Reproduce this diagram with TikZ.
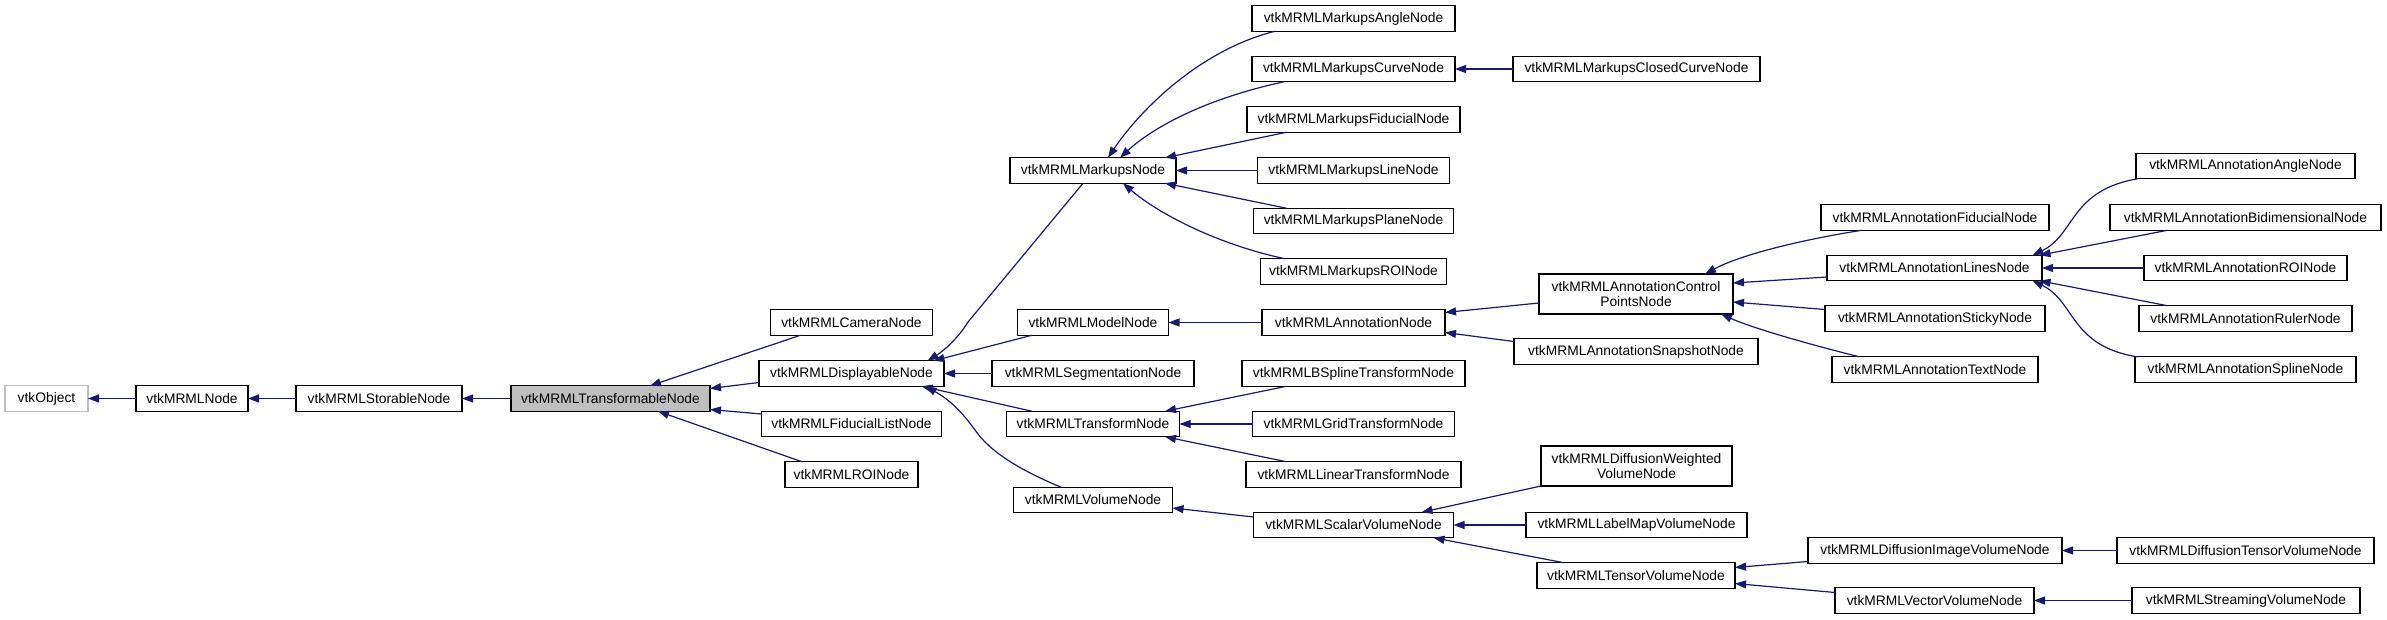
\documentclass[tikz,border=0pt]{standalone}
\usepackage{fontspec}
\setmainfont{Liberation Sans}
\usetikzlibrary{arrows.meta}
\definecolor{edgeblue}{HTML}{191970}
\definecolor{graybd}{HTML}{BFBFBF}
\begin{document}
\begin{tikzpicture}[x=1pt,y=-1pt,
  box/.style={draw=black, fill=white, line width=1.2pt, inner sep=0pt, outer sep=0pt,
    minimum height=25.5pt, align=center, font=\fontsize{13.8pt}{15pt}\selectfont},
  inh/.style={draw=edgeblue, line width=1.2pt, {Triangle[length=11pt,width=8pt]}-}]
\useasboundingbox[fill=white] (0,0) rectangle (2387,620);
% column 0
\node[box, minimum width=83pt, draw=graybd] (obj) at (46.5,398.5) {vtkObject};
\node[box, minimum width=112pt] (nd) at (192,398.5) {vtkMRMLNode};
\node[box, minimum width=166pt] (stor) at (379,398.5) {vtkMRMLStorableNode};
\node[box, minimum width=199pt, fill=graybd] (trans) at (610.5,398.5) {vtkMRMLTransformableNode};
% column 1
\node[box, minimum width=162pt] (cam) at (851.5,322.5) {vtkMRMLCameraNode};
\node[box, minimum width=185pt] (disp) at (851.5,373.5) {vtkMRMLDisplayableNode};
\node[box, minimum width=180pt] (fidl) at (851.5,424) {vtkMRMLFiducialListNode};
\node[box, minimum width=133pt] (roi) at (851.5,474.5) {vtkMRMLROINode};
% column 2
\node[box, minimum width=166pt] (mk) at (1093,170.5) {vtkMRMLMarkupsNode};
\node[box, minimum width=151pt] (model) at (1093,322.5) {vtkMRMLModelNode};
\node[box, minimum width=202pt] (seg) at (1093,373.5) {vtkMRMLSegmentationNode};
\node[box, minimum width=173pt] (tf) at (1093,424) {vtkMRMLTransformNode};
\node[box, minimum width=159pt] (vol) at (1093,500) {vtkMRMLVolumeNode};
% column 3
\node[box, minimum width=203pt] (mang) at (1353.5,18.5) {vtkMRMLMarkupsAngleNode};
\node[box, minimum width=203pt] (mcurve) at (1353.5,69) {vtkMRMLMarkupsCurveNode};
\node[box, minimum width=213pt] (mfid) at (1353.5,119.5) {vtkMRMLMarkupsFiducialNode};
\node[box, minimum width=192pt] (mline) at (1353.5,170.5) {vtkMRMLMarkupsLineNode};
\node[box, minimum width=200pt] (mplane) at (1353.5,221) {vtkMRMLMarkupsPlaneNode};
\node[box, minimum width=186pt] (mroi) at (1353.5,271.5) {vtkMRMLMarkupsROINode};
\node[box, minimum width=183pt] (ann) at (1353.5,322.5) {vtkMRMLAnnotationNode};
\node[box, minimum width=223pt] (bspl) at (1353.5,373.5) {vtkMRMLBSplineTransformNode};
\node[box, minimum width=202pt] (grid) at (1353.5,424) {vtkMRMLGridTransformNode};
\node[box, minimum width=215pt] (lin) at (1353.5,474.5) {vtkMRMLLinearTransformNode};
\node[box, minimum width=200pt] (scal) at (1353.5,525) {vtkMRMLScalarVolumeNode};
% column 4
\node[box, minimum width=247pt] (mclosed) at (1636.5,69) {vtkMRMLMarkupsClosedCurveNode};
\node[box, minimum width=194pt, minimum height=40pt] (cp) at (1636,294) {vtkMRMLAnnotationControl\\PointsNode};
\node[box, minimum width=244pt] (snap) at (1636,351.5) {vtkMRMLAnnotationSnapshotNode};
\node[box, minimum width=191pt, minimum height=40pt] (dw) at (1636.5,466) {vtkMRMLDiffusionWeighted\\VolumeNode};
\node[box, minimum width=221pt] (label) at (1636.5,525) {vtkMRMLLabelMapVolumeNode};
\node[box, minimum width=198pt] (tensor) at (1636,575.5) {vtkMRMLTensorVolumeNode};
% column 5
\node[box, minimum width=228pt] (afid) at (1935,217.5) {vtkMRMLAnnotationFiducialNode};
\node[box, minimum width=215pt] (alines) at (1934.5,268) {vtkMRMLAnnotationLinesNode};
\node[box, minimum width=220pt] (asticky) at (1935,318.5) {vtkMRMLAnnotationStickyNode};
\node[box, minimum width=206pt] (atext) at (1935,369.5) {vtkMRMLAnnotationTextNode};
\node[box, minimum width=254pt] (dimg) at (1935,550.5) {vtkMRMLDiffusionImageVolumeNode};
\node[box, minimum width=199pt] (vec) at (1934.5,600.5) {vtkMRMLVectorVolumeNode};
% column 6
\node[box, minimum width=219pt] (aang) at (2245.5,166) {vtkMRMLAnnotationAngleNode};
\node[box, minimum width=271pt] (abid) at (2245.5,217.5) {vtkMRMLAnnotationBidimensionalNode};
\node[box, minimum width=203pt] (aroi) at (2245.5,268) {vtkMRMLAnnotationROINode};
\node[box, minimum width=213pt] (aruler) at (2245.5,318.5) {vtkMRMLAnnotationRulerNode};
\node[box, minimum width=221pt] (aspline) at (2245.5,369.5) {vtkMRMLAnnotationSplineNode};
\node[box, minimum width=257pt] (dten) at (2245.5,550.5) {vtkMRMLDiffusionTensorVolumeNode};
\node[box, minimum width=228pt] (stream) at (2246,600.5) {vtkMRMLStreamingVolumeNode};
% straight horizontal edges
\draw[inh] (obj.east) -- (nd.west);
\draw[inh] (nd.east) -- (stor.west);
\draw[inh] (stor.east) -- (trans.west);
\draw[inh] (disp.east) -- (seg.west);
\draw[inh] (mk.east) -- (mline.west);
\draw[inh] (mcurve.east) -- (mclosed.west);
\draw[inh] (model.east) -- (ann.west);
\draw[inh] (tf.east) -- (grid.west);
\draw[inh] (scal.east) -- (label.west);
\draw[inh] (alines.east) -- (aroi.west);
\draw[inh] (dimg.east) -- (dten.west);
\draw[inh] (vec.east) -- (stream.west);
% transformable children
\draw[inh] ([xshift=39.5pt]trans.north) -- ([xshift=-51pt]cam.south);
\draw[inh] ([yshift=10pt]trans.east) -- ([yshift=-9pt]disp.west);
\draw[inh] ([yshift=-11pt]trans.east) -- ([yshift=10pt]fidl.west);
\draw[inh] ([xshift=47.5pt]trans.south) -- ([xshift=-49.5pt]roi.north);
% displayable children
\draw[inh] ([xshift=76pt]disp.north) .. controls (945,350) and (958,338) .. (968,322) -- ([xshift=-10pt]mk.south);
\draw[inh] ([xshift=82pt]disp.north) -- ([xshift=-61pt]model.south);
\draw[inh] ([xshift=70pt]disp.south) -- ([xshift=-61pt]tf.north);
\draw[inh] ([xshift=74pt]disp.south) .. controls (950,400) and (962,412) .. (975,430) .. controls (990,452) and (1020,470) .. ([xshift=-32pt]vol.north);
% transform children
\draw[inh] ([xshift=72pt]tf.north) -- ([xshift=-67pt]bspl.south);
\draw[inh] ([xshift=72pt]tf.south) -- ([xshift=-67pt]lin.north);
% markups children
\draw[inh] ([xshift=15pt]mk.north) .. controls (1140,110) and (1200,50) .. ([xshift=-78.5pt]mang.south);
\draw[inh] ([xshift=27pt]mk.north) .. controls (1150,130) and (1200,100) .. ([xshift=-69.5pt]mcurve.south);
\draw[inh] ([xshift=72pt]mk.north) -- ([xshift=-67pt]mfid.south);
\draw[inh] ([xshift=72pt]mk.south) -- ([xshift=-67pt]mplane.north);
\draw[inh] ([xshift=30pt]mk.south) .. controls (1160,215) and (1220,245) .. ([xshift=-68.5pt]mroi.north);
% annotation
\draw[inh] ([yshift=10pt]ann.east) -- ([yshift=-9pt]cp.west);
\draw[inh] ([yshift=-10pt]ann.east) -- ([yshift=10pt]snap.west);
\draw[inh] ([xshift=69pt]cp.north) .. controls (1740,255) and (1800,240) .. ([xshift=-73pt]afid.south);
\draw[inh] ([yshift=11pt]cp.east) -- ([yshift=-9pt]alines.west);
\draw[inh] ([yshift=-8pt]cp.east) -- ([yshift=9pt]asticky.west);
\draw[inh] ([xshift=85pt]cp.south) .. controls (1750,327) and (1800,342) .. ([xshift=-76pt]atext.north);
\draw[inh] ([xshift=98pt]alines.north) .. controls (2075,235) and (2070,190) .. ([xshift=2pt]aang.south west);
\draw[inh] ([xshift=105pt]alines.north) -- ([xshift=-78pt]abid.south);
\draw[inh] ([xshift=105pt]alines.south) -- ([xshift=-78pt]aruler.north);
\draw[inh] ([xshift=98pt]alines.south) .. controls (2075,301) and (2070,346) .. ([xshift=2pt]aspline.north west);
% volumes
\draw[inh] ([yshift=-8pt]vol.east) -- ([yshift=8pt]scal.west);
\draw[inh] ([xshift=68pt]scal.north) -- (dw.south west);
\draw[inh] ([xshift=80pt]scal.south) -- ([xshift=-72pt]tensor.north);
\draw[inh] ([yshift=8pt]tensor.east) -- ([yshift=-11pt]dimg.west);
\draw[inh] ([yshift=-8pt]tensor.east) -- ([yshift=8pt]vec.west);
\end{tikzpicture}
\end{document}
